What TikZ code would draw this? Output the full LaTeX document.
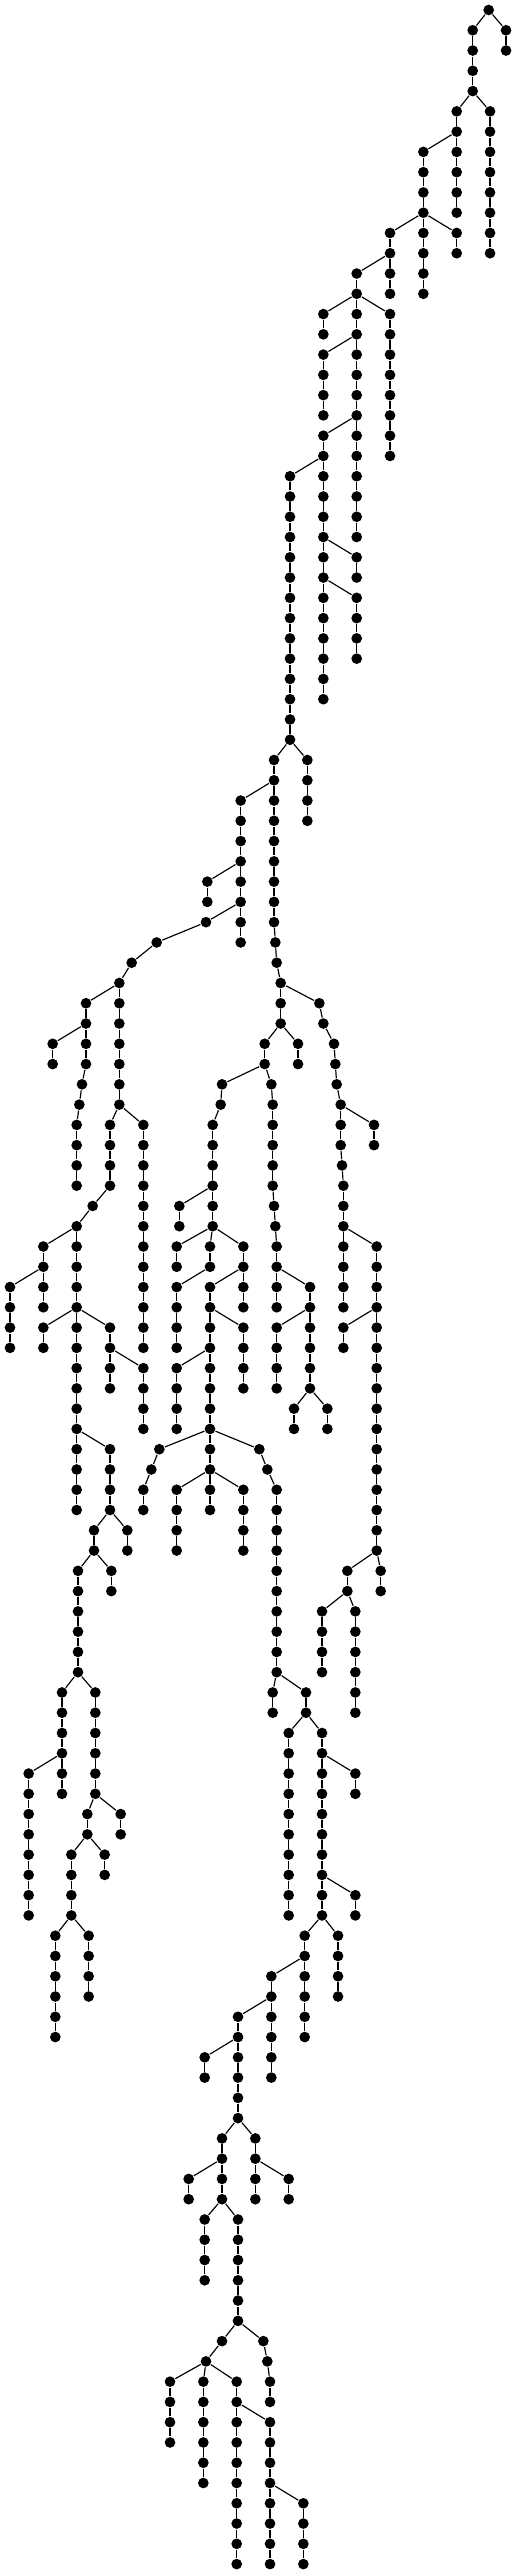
\documentclass[tikz,border=0pt]{standalone}
\newcommand\tnd[4]{\node[dot] (#2) at (#3,#4) {}; \draw[edge] (#1) -- (#2);}
\newcommand\tchain[5]{%
  \node[dot] (#2-#4) at (#3,#4) {};
  \draw[edge] (#1) -- (#2-#4);
  \ifnum#5>#4\relax
    \pgfmathtruncatemacro\tcs{#4+1}%
    \foreach \ti in {\tcs,...,#5}{%
      \pgfmathtruncatemacro\tpv{\ti-1}%
      \node[dot] (#2-\ti) at (#3,\ti) {};
      \draw[edge] (#2-\tpv) -- (#2-\ti);
    }%
  \fi}
\begin{document}
\begin{tikzpicture}[x=0.1pt,y=-6.081pt,
  dot/.style={circle,fill=black,inner sep=0pt,minimum size=3.2pt},
  edge/.style={line width=0.35pt,black}]
\path[use as bounding box] (0,-0.4933) rectangle (1548,126.49);
\node[dot] (r) at (1466,0) {};
\tchain{r}{b}{1518}{1}{2}
\tchain{r}{a}{1418}{1}{4}
\tchain{a-4}{e}{1470}{5}{12}
\tchain{a-4}{d}{1370}{5}{6}
\tchain{d-6}{g}{1370}{7}{10}
\tchain{d-6}{f}{1270}{7}{10}
\tchain{f-10}{i}{1270}{11}{14}
\tchain{f-10}{j}{1370}{11}{12}
\tchain{f-10}{h}{1170}{11}{12}
\tchain{h-12}{hh}{1170}{13}{14}
\tchain{h-12}{k}{1070}{13}{14}
\tchain{k-14}{ka}{970}{15}{16}
\tchain{k-14}{kc}{1170}{15}{22}
\tchain{k-14}{m}{1070}{15}{20}
\tchain{m-16}{mb}{970}{17}{20}
\tchain{m-20}{mc}{1070}{21}{26}
\tchain{m-20}{n}{970}{21}{22}
\tchain{n-22}{o}{870}{23}{36}
\tchain{n-22}{p}{970}{23}{34}
\tchain{p-26}{pa}{1070}{27}{28}
\tchain{p-28}{pb}{1070}{29}{32}
\tchain{o-36}{q}{922}{37}{40}
\tchain{o-36}{s}{822}{37}{38}
\tchain{s-38}{t}{722}{39}{46}
\tchain{t-42}{ta}{622}{43}{44}
\tnd{t-44}{u45}{618}{45}
\tnd{u45}{u46}{470}{46}
\tnd{u46}{u47}{395}{47}
\tnd{u47}{u48}{358}{48}
\tchain{u48}{v}{358}{49}{54}
\tchain{u48}{w}{258}{49}{50}
\tchain{w-50}{wa}{158}{51}{52}
\tchain{w-50}{wb}{258}{51}{52}
\tnd{wb-52}{wb53}{246}{53}
\tnd{wb53}{wb54}{238}{54}
\tchain{wb54}{wc}{230}{55}{58}
\tchain{v-54}{x}{330}{55}{58}
\tnd{x-58}{x59}{278}{59}
\tnd{x59}{x60}{230}{60}
\tchain{v-54}{y}{430}{55}{66}
\tchain{x60}{z}{130}{61}{62}
\tchain{z-62}{za}{30}{63}{66}
\tchain{z-62}{zb}{130}{63}{64}
\tchain{x60}{aa}{230}{61}{64}
\tchain{aa-64}{ab}{130}{65}{66}
\tchain{aa-64}{ac}{330}{65}{66}
\tchain{ac-66}{ad}{330}{67}{68}
\tchain{ac-66}{ae}{430}{67}{70}
\tchain{aa-64}{af}{230}{65}{70}
\tchain{af-70}{ag}{230}{71}{74}
\tchain{af-70}{ah}{330}{71}{74}
\tchain{ah-74}{ai}{382}{75}{76}
\tchain{ah-74}{aj}{282}{75}{76}
\tchain{aj-76}{ak}{334}{77}{78}
\tchain{aj-76}{al}{234}{77}{82}
\tchain{al-82}{am}{186}{83}{86}
\tchain{am-86}{an}{86}{87}{94}
\tchain{am-86}{ao}{186}{87}{88}
\tchain{al-82}{ap}{286}{83}{88}
\tchain{ap-88}{aq}{362}{89}{90}
\tchain{ap-88}{ar}{262}{89}{90}
\tchain{ar-90}{as}{314}{91}{92}
\tchain{ar-90}{at}{214}{91}{94}
\tchain{at-94}{au}{166}{95}{100}
\tchain{at-94}{av}{266}{95}{98}
\tchain{s-38}{ba}{822}{39}{45}
\tnd{ba-45}{ba46}{826}{46}
\tnd{ba46}{ba47}{830}{47}
\tnd{ba47}{ba48}{842}{48}
\tchain{ba48}{bb}{842}{49}{50}
\tchain{bb-50}{bc}{894}{51}{52}
\tchain{bb-50}{bd}{794}{51}{52}
\tnd{ba48}{be49}{958}{49}
\tnd{be49}{be50}{970}{50}
\tnd{be50}{be51}{1002}{51}
\tnd{be51}{be52}{1006}{52}
\tnd{be52}{be53}{1010}{53}
\tnd{be53}{be54}{1022}{54}
\tchain{be54}{bf}{1122}{55}{56}
\tchain{be54}{bg}{1022}{55}{56}
\tnd{bg-56}{bg57}{1026}{57}
\tchain{bg57}{bh}{1030}{58}{60}
\tchain{bh-60}{bi}{1030}{61}{64}
\tchain{bh-60}{bj}{1130}{61}{64}
\tchain{bj-64}{bk}{1030}{65}{66}
\tchain{bj-64}{bl}{1130}{65}{76}
\tchain{bl-76}{bm}{1142}{77}{78}
\tchain{bl-76}{bn}{1042}{77}{78}
\tchain{bn-78}{bo}{966}{79}{82}
\tchain{bn-78}{bp}{1066}{79}{84}
\tnd{bd-52}{ca53}{666}{53}
\tnd{ca53}{ca54}{662}{54}
\tchain{ca54}{cb}{638}{55}{60}
\tchain{cb-58}{cc}{538}{59}{60}
\tchain{cb-60}{cd}{530}{61}{62}
\tchain{cb-60}{ce}{630}{61}{62}
\tchain{ce-62}{cf}{530}{63}{66}
\tchain{cb-60}{cg}{730}{61}{62}
\tchain{cg-62}{ch}{730}{63}{64}
\tchain{cg-62}{ci}{630}{63}{64}
\tchain{ci-64}{cj}{730}{65}{68}
\tchain{ci-64}{ck}{630}{65}{66}
\tchain{ck-66}{cl}{530}{67}{70}
\tchain{ck-66}{cm}{630}{67}{70}
\tnd{cm-70}{cn71}{478}{71}
\tnd{cn71}{cn72}{454}{72}
\tchain{cn72}{co}{430}{73}{74}
\tchain{cm-70}{cp}{630}{71}{72}
\tchain{cp-72}{cq}{530}{73}{76}
\tchain{cp-72}{cr}{630}{73}{74}
\tchain{cp-72}{cs}{730}{73}{76}
\tnd{cm-70}{ct71}{778}{71}
\tnd{ct71}{ct72}{802}{72}
\tchain{ct72}{cu}{830}{73}{82}
\tchain{cu-82}{cv}{818}{83}{84}
\tchain{cu-82}{cw}{918}{83}{84}
\tchain{cw-84}{cx}{866}{85}{94}
\tchain{cw-84}{cy}{966}{85}{94}
\tchain{cy-86}{cz}{1066}{87}{88}
\tchain{cy-92}{da}{1066}{93}{94}
\tchain{cy-94}{db}{1014}{95}{98}
\tchain{cy-94}{dc}{914}{95}{100}
\tchain{dc-96}{dd}{814}{97}{102}
\tchain{dd-98}{de}{714}{99}{104}
\tchain{de-100}{df}{614}{101}{102}
\tchain{de-104}{dg}{766}{105}{106}
\tchain{dg-106}{dh}{766}{107}{108}
\tchain{dg-106}{di}{866}{107}{108}
\tchain{de-104}{dj}{666}{105}{106}
\tchain{dj-106}{dk}{566}{107}{108}
\tchain{dj-106}{dl}{666}{107}{108}
\tchain{dl-108}{dm}{614}{109}{112}
\tchain{dl-108}{dn}{714}{109}{114}
\tnd{dn-114}{do115}{666}{115}
\tnd{do115}{do116}{618}{116}
\tchain{do116}{dp}{510}{117}{120}
\tchain{do116}{dq}{610}{117}{122}
\tchain{do116}{dr}{710}{117}{126}
\tchain{dr-118}{ds}{810}{119}{126}
\tchain{ds-122}{dt}{910}{123}{126}
\tnd{dn-114}{du115}{790}{115}
\tnd{du115}{du116}{802}{116}
\tchain{du116}{dv}{810}{117}{118}
\tnd{bd-52}{ea53}{814}{53}
\tchain{ea53}{eb}{818}{54}{58}
\tnd{eb-58}{ea59}{822}{59}
\tnd{ea59}{ea60}{826}{60}
\tchain{ea60}{ec}{830}{61}{64}
\tchain{ec-62}{ed}{930}{63}{64}
\tchain{ed-64}{ee}{830}{65}{68}
\tchain{ed-64}{ef}{930}{65}{68}
\tchain{ef-68}{eg}{882}{69}{70}
\tchain{ef-68}{eh}{982}{69}{70}
\end{tikzpicture}
\end{document}
